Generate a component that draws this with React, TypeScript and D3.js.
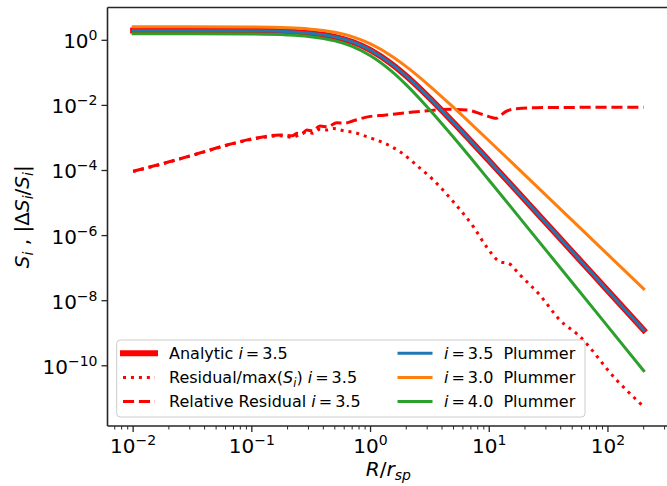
import React from 'react';
import * as d3 from 'd3';

// ---------- data ----------
const R_GRID = [0.01, 0.03, 0.1, 0.2, 0.3, 0.5, 0.7, 1, 1.5, 2, 3, 5, 7, 10, 20, 50, 100, 200];
const ANALYTIC_35 = [2.0, 1.996, 1.961, 1.849, 1.683, 1.28, 0.901, 0.5, 0.1893, 0.08, 0.02, 2.96e-3, 8.0e-4, 1.96e-4, 1.244e-5, 3.2e-7, 2.0e-8, 1.25e-9];
const PLUMMER_35 = [2.0, 1.996, 1.961, 1.849, 1.683, 1.28, 0.901, 0.5, 0.1893, 0.08, 0.02, 2.96e-3, 8.0e-4, 1.96e-4, 1.244e-5, 3.2e-7, 2.0e-8, 1.25e-9];
const PLUMMER_30 = [2.6, 2.596, 2.555, 2.428, 2.236, 1.759, 1.294, 0.773, 0.3305, 0.1555, 0.0462, 8.69e-3, 2.77e-3, 8.08e-4, 7.23e-5, 2.94e-6, 2.6e-7, 2.3e-8];
const PLUMMER_40 = [1.6, 1.597, 1.565, 1.465, 1.318, 0.968, 0.652, 0.336, 0.1128, 0.0428, 9.0e-3, 1.05e-3, 2.41e-4, 4.94e-5, 2.22e-6, 3.62e-8, 1.6e-9, 7.07e-11];

const REL_RES_R = [0.01, 0.018, 0.034, 0.065, 0.117, 0.173, 0.22, 0.24, 0.263, 0.29, 0.324, 0.375, 0.436, 0.519, 0.6, 0.716, 1.0, 1.3, 2.45, 4.7, 6.5, 8.9, 11.5, 12.5, 14, 17, 25, 60, 200];
const REL_RES_V = [9.5e-5, 1.66e-4, 3.2e-4, 6.4e-4, 1.04e-3, 1.23e-3, 1.17e-3, 1.39e-3, 1.32e-3, 1.75e-3, 1.66e-3, 2.32e-3, 2.19e-3, 2.94e-3, 2.82e-3, 3.39e-3, 4.6e-3, 5.0e-3, 6.4e-3, 7.6e-3, 7.2e-3, 5.2e-3, 4.0e-3, 5.0e-3, 6.7e-3, 7.9e-3, 8.5e-3, 8.7e-3, 8.7e-3];

const RES_MAX_R = [0.01, 0.018, 0.034, 0.065, 0.117, 0.173, 0.22, 0.255, 0.29, 0.324, 0.375, 0.436, 0.485, 0.6, 0.716, 0.928, 1.3, 1.77, 2.5, 3.38, 4.98, 7.35, 9.5, 12.3, 14.5, 18.2, 26.7, 39.5, 56.3, 118.6, 186, 200];
const RES_MAX_V = [9.3e-5, 1.63e-4, 3.15e-4, 6.25e-4, 1.0e-3, 1.16e-3, 1.05e-3, 1.3e-3, 1.5e-3, 1.4e-3, 1.85e-3, 1.75e-3, 1.95e-3, 1.65e-3, 1.5e-3, 1.09e-3, 7.0e-4, 3.77e-4, 1.35e-4, 5.1e-5, 1.1e-5, 1.87e-6, 4.5e-7, 1.57e-7, 1.4e-7, 6.1e-8, 1.49e-8, 2.5e-9, 8.8e-10, 3.6e-11, 7.1e-12, 5.5e-12];

const X_TICK_EXPS = [-2, -1, 0, 1, 2];
const Y_TICK_EXPS = [0, -2, -4, -6, -8, -10];

const FONT = 'DejaVu Sans';

function Pow10({ exp, x, y, anchor, size }: { exp: number; x: number; y: number; anchor: string; size: number }) {
  const s = exp < 0 ? '\u2212' + Math.abs(exp) : String(exp);
  return (
    <text x={x} y={y} textAnchor={anchor as any} fontFamily={FONT} fontSize={size} fill="#000">
      <tspan>10</tspan>
      <tspan dy={-8} fontSize={size * 0.7}>{s}</tspan>
    </text>
  );
}

export default function App() {
  const W = 667, H = 486;
  const left = 107.5, right = 669.2, top = 7.5, bottom = 426;
  const x = d3.scaleLog().domain([Math.pow(10, -2.216), Math.pow(10, 2.516)]).range([left, right]);
  const y = d3.scaleLog().domain([Math.pow(10, -11.85), Math.pow(10, 1.008)]).range([bottom, top]);
  const line = d3.line<[number, number]>().x(d => x(d[0])).y(d => y(d[1])).curve(d3.curveMonotoneX);
  const zip = (rs: number[], vs: number[]) => rs.map((r, i) => [r, vs[i]] as [number, number]);

  const xMinor: number[] = [];
  for (let k = -3; k <= 2; k++) for (let m = 2; m <= 9; m++) {
    const v = m * Math.pow(10, k);
    if (v >= x.domain()[0] && v <= x.domain()[1]) xMinor.push(v);
  }

  const spine = '#262626';
  const red = '#ff0000';
  const blue = '#1f77b4', orange = '#ff7f0e', green = '#2ca02c';

  const lrow = [353.3, 377.5, 401.5];
  const lfs = 16;

  const mathI = (key: string) => <tspan key={key} fontStyle="italic">i</tspan>;

  return (
    <svg width={W} height={H} style={{ position: 'absolute', left: 0, top: 0, display: 'block' }} xmlns="http://www.w3.org/2000/svg">
      <rect x={0} y={0} width={W} height={H} fill="#fff" />
      <defs>
        <clipPath id="ax"><rect x={left} y={top} width={right - left} height={bottom - top} /></clipPath>
      </defs>
      <g clipPath="url(#ax)" fill="none" strokeLinejoin="round">
        <path d={line(zip(R_GRID, ANALYTIC_35)) || ''} stroke={red} strokeWidth={6} strokeLinecap="square" />
        <path d={line(zip(RES_MAX_R, RES_MAX_V)) || ''} stroke={red} strokeWidth={3} strokeDasharray="3 4.95" />
        <path d={line(zip(REL_RES_R, REL_RES_V)) || ''} stroke={red} strokeWidth={3} strokeDasharray="11.1 4.8" />
        <path d={line(zip(R_GRID, PLUMMER_35)) || ''} stroke={blue} strokeWidth={3} strokeLinecap="square" />
        <path d={line(zip(R_GRID, PLUMMER_30)) || ''} stroke={orange} strokeWidth={3} strokeLinecap="square" />
        <path d={line(zip(R_GRID, PLUMMER_40)) || ''} stroke={green} strokeWidth={3} strokeLinecap="square" />
      </g>

      {/* spines */}
      <g stroke={spine} strokeWidth={1.6} fill="none">
        <line x1={left} y1={top} x2={left} y2={bottom} />
        <line x1={left} y1={bottom} x2={right} y2={bottom} />
        <line x1={left} y1={top} x2={right} y2={top} />
        <line x1={right} y1={top} x2={right} y2={bottom} />
      </g>

      {/* ticks */}
      <g stroke={spine} strokeWidth={1.3}>
        {X_TICK_EXPS.map(e => (
          <line key={'xt' + e} x1={x(Math.pow(10, e))} x2={x(Math.pow(10, e))} y1={bottom} y2={bottom + 6} />
        ))}
        {xMinor.map((v, i) => (
          <line key={'xm' + i} x1={x(v)} x2={x(v)} y1={bottom} y2={bottom + 3.5} strokeWidth={1} />
        ))}
        {Y_TICK_EXPS.map(e => (
          <line key={'yt' + e} x1={left - 6} x2={left} y1={y(Math.pow(10, e))} y2={y(Math.pow(10, e))} />
        ))}
      </g>
      {X_TICK_EXPS.map(e => (
        <Pow10 key={'xl' + e} exp={e} x={x(Math.pow(10, e))} y={453} anchor="middle" size={20} />
      ))}
      {Y_TICK_EXPS.map(e => (
        <Pow10 key={'yl' + e} exp={e} x={97.5} y={y(Math.pow(10, e)) + 8} anchor="end" size={20} />
      ))}

      {/* axis labels */}
      <text x={(left + right) / 2} y={476} textAnchor="middle" fontFamily={FONT} fontSize={20} fill="#000">
        <tspan fontStyle="italic">R</tspan>
        <tspan>/</tspan>
        <tspan fontStyle="italic">r</tspan>
        <tspan fontStyle="italic" fontSize={14} dy={4}>sp</tspan>
      </text>
      <text transform={`translate(28.5, ${(top + bottom) / 2}) rotate(-90)`} textAnchor="middle" fontFamily={FONT} fontSize={20} fill="#000">
        <tspan fontStyle="italic">S</tspan>
        <tspan fontStyle="italic" fontSize={14} dy={4}>i</tspan>
        <tspan dy={-4}>{' , |\u0394'}</tspan>
        <tspan fontStyle="italic">S</tspan>
        <tspan fontStyle="italic" fontSize={14} dy={4}>i</tspan>
        <tspan dy={-4}>/</tspan>
        <tspan fontStyle="italic">S</tspan>
        <tspan fontStyle="italic" fontSize={14} dy={4}>i</tspan>
        <tspan dy={-4}>|</tspan>
      </text>

      {/* legend */}
      <rect x={116.7} y={340} width={468.3} height={77} rx={3.5} fill="#fff" fillOpacity={0.8} stroke="#cccccc" strokeWidth={1} />
      <g fill="none">
        <line x1={123} x2={155} y1={lrow[0]} y2={lrow[0]} stroke={red} strokeWidth={6} strokeLinecap="square" />
        <line x1={123} x2={155} y1={lrow[1]} y2={lrow[1]} stroke={red} strokeWidth={3} strokeDasharray="3 4.95" />
        <line x1={123} x2={155} y1={lrow[2]} y2={lrow[2]} stroke={red} strokeWidth={3} strokeDasharray="11.1 4.8" />
        <line x1={399} x2={431} y1={lrow[0]} y2={lrow[0]} stroke={blue} strokeWidth={3} strokeLinecap="square" />
        <line x1={399} x2={431} y1={lrow[1]} y2={lrow[1]} stroke={orange} strokeWidth={3} strokeLinecap="square" />
        <line x1={399} x2={431} y1={lrow[2]} y2={lrow[2]} stroke={green} strokeWidth={3} strokeLinecap="square" />
      </g>
      <g fontFamily={FONT} fontSize={lfs} fill="#000">
        <text x={169} y={lrow[0] + 5.8}>
          <tspan>{'Analytic '}</tspan>{mathI('a')}<tspan dx={3}>=</tspan><tspan dx={3}>3.5</tspan>
        </text>
        <text x={169} y={lrow[1] + 5.8}>
          <tspan>{'Residual/max('}</tspan>
          <tspan fontStyle="italic">S</tspan>
          <tspan fontStyle="italic" fontSize={11.5} dy={3.5}>i</tspan>
          <tspan dy={-3.5}>{') '}</tspan>{mathI('b')}<tspan dx={3}>=</tspan><tspan dx={3}>3.5</tspan>
        </text>
        <text x={169} y={lrow[2] + 5.8}>
          <tspan>{'Relative Residual '}</tspan>{mathI('c')}<tspan dx={3}>=</tspan><tspan dx={3}>3.5</tspan>
        </text>
        <text x={444} y={lrow[0] + 5.8}>
          {mathI('d')}<tspan dx={3}>=</tspan><tspan dx={3}>3.5</tspan><tspan dx={5}>{' Plummer'}</tspan>
        </text>
        <text x={444} y={lrow[1] + 5.8}>
          {mathI('e')}<tspan dx={3}>=</tspan><tspan dx={3}>3.0</tspan><tspan dx={5}>{' Plummer'}</tspan>
        </text>
        <text x={444} y={lrow[2] + 5.8}>
          {mathI('f')}<tspan dx={3}>=</tspan><tspan dx={3}>4.0</tspan><tspan dx={5}>{' Plummer'}</tspan>
        </text>
      </g>
    </svg>
  );
}
